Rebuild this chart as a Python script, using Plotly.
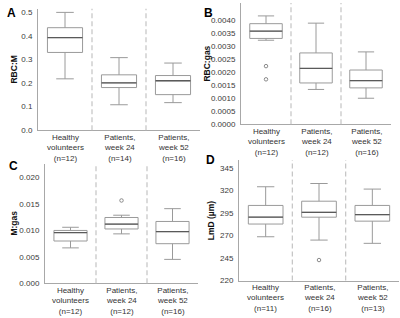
import plotly.graph_objects as go

# ---------------- data ----------------
line1 = ["Healthy", "Patients,", "Patients,"]
line2 = ["volunteers", "week 24", "week 52"]

n_A = [12, 14, 16]
n_B = [12, 12, 16]
n_C = [12, 12, 16]
n_D = [11, 16, 13]

# panel A: RBC:M
A_low = [0.218, 0.108, 0.117]
A_q1 = [0.330, 0.181, 0.151]
A_med = [0.393, 0.201, 0.210]
A_q3 = [0.435, 0.235, 0.232]
A_high = [0.500, 0.308, 0.285]
A_out_x = []
A_out_y = []

# panel B: RBC:gas
B_low = [0.00324, 0.00134, 0.00100]
B_q1 = [0.00331, 0.00159, 0.00140]
B_med = [0.00359, 0.00215, 0.00168]
B_q3 = [0.00388, 0.00275, 0.00209]
B_high = [0.00418, 0.00390, 0.00279]
B_out_x = [0, 0]
B_out_y = [0.00224, 0.00173]

# panel C: M:gas
C_low = [0.0067, 0.00935, 0.00452]
C_q1 = [0.0080, 0.01028, 0.00749]
C_med = [0.0096, 0.0112, 0.00978]
C_q3 = [0.0100, 0.01245, 0.0117]
C_high = [0.0106, 0.01288, 0.01412]
C_out_x = [1]
C_out_y = [0.01567]

# panel D: LmD (µm)
D_low = [268.6, 264.9, 261.3]
D_q1 = [282.7, 290.3, 285.9]
D_med = [290.3, 295.7, 293.1]
D_q3 = [303.3, 308.0, 303.3]
D_high = [324.0, 327.6, 321.4]
D_out_x = [1]
D_out_y = [242.8]

W, H = 400, 318
FONT = "Liberation Sans, Arial, sans-serif"
BOX_W = 0.65

panels = [
    dict(key="A", title="RBC:M", low=A_low, q1=A_q1, med=A_med, q3=A_q3, high=A_high,
         ox=A_out_x, oy=A_out_y, n=n_A, xpx=(38, 200), ypx=(8, 131.7),
         yrange=[0, 0.515], tickvals=[0, 0.1, 0.2, 0.3, 0.4, 0.5], fmt="{:.1f}",
         letter=(11, 12), ytitle_x=14),
    dict(key="B", title="RBC:gas", low=B_low, q1=B_q1, med=B_med, q3=B_q3, high=B_high,
         ox=B_out_x, oy=B_out_y, n=n_B, xpx=(241, 391), ypx=(2, 125.5),
         yrange=[0, 0.00468], tickvals=[i * 0.0005 for i in range(9)], fmt="{:.4f}",
         letter=(208, 12), ytitle_x=207),
    dict(key="C", title="M:gas", low=C_low, q1=C_q1, med=C_med, q3=C_q3, high=C_high,
         ox=C_out_x, oy=C_out_y, n=n_C, xpx=(45, 198), ypx=(166, 287.7),
         yrange=[0, 0.0226], tickvals=[0, 0.005, 0.01, 0.015, 0.02], fmt="{:.3f}",
         letter=(13, 168), ytitle_x=14),
    dict(key="D", title="LmD (µm)", low=D_low, q1=D_q1, med=D_med, q3=D_q3, high=D_high,
         ox=D_out_x, oy=D_out_y, n=n_D, xpx=(239, 399), ypx=(162, 285),
         yrange=[220, 353.7], tickvals=[220, 245, 270, 295, 320, 345], fmt="{:.0f}",
         letter=(210, 162), ytitle_x=211),
]

fig = go.Figure()
shapes = []
annotations = []
layout = {}

for i, p in enumerate(panels):
    s = "" if i == 0 else str(i + 1)
    xa, ya = "x" + s, "y" + s
    xdom = [p["xpx"][0] / W, p["xpx"][1] / W]
    ydom = [1 - p["ypx"][1] / H, 1 - p["ypx"][0] / H]

    fig.add_trace(go.Box(
        x=[0, 1, 2], q1=p["q1"], median=p["med"], q3=p["q3"],
        lowerfence=p["low"], upperfence=p["high"],
        width=BOX_W, whiskerwidth=0.5, boxpoints=False,
        fillcolor="white", line=dict(color="#9a9a9a", width=1),
        xaxis=xa, yaxis=ya, showlegend=False, hoverinfo="skip"))
    if p["ox"]:
        fig.add_trace(go.Scatter(
            x=p["ox"], y=p["oy"], mode="markers",
            marker=dict(symbol="circle-open", size=3.5, color="#8a8a8a", line=dict(width=1)),
            xaxis=xa, yaxis=ya, showlegend=False, hoverinfo="skip"))

    # darker median lines
    for j, m in enumerate(p["med"]):
        shapes.append(dict(type="line", xref=xa, yref=ya,
                           x0=j - BOX_W / 2, x1=j + BOX_W / 2, y0=m, y1=m,
                           line=dict(color="#5a5a5a", width=1.3)))
    # dashed separators
    for b in [0.5, 1.5]:
        shapes.append(dict(type="line", xref=xa, yref=ya + " domain",
                           x0=b, x1=b, y0=0, y1=1,
                           line=dict(color="#c4c4c4", width=1.2, dash="5px,3px")))

    layout["xaxis" + s] = dict(domain=xdom, range=[-0.5, 2.5], anchor=ya,
                               showticklabels=False, ticks="", showgrid=False,
                               zeroline=False, showline=True, linecolor="#a8a8a8",
                               linewidth=1, fixedrange=True)
    layout["yaxis" + s] = dict(domain=ydom, range=p["yrange"], anchor=xa,
                               tickvals=p["tickvals"],
                               ticktext=[p["fmt"].format(v) for v in p["tickvals"]],
                               ticks="", showgrid=False, zeroline=False, showline=True,
                               linecolor="#a8a8a8", linewidth=1,
                               tickfont=dict(size=8, color="#3a3a3a", family=FONT),
                               ticklabelstandoff=3, fixedrange=True)

    # category labels (three lines, one text each)
    for j in range(3):
        txt = "%s<br>%s<br>(n=%d)" % (line1[j], line2[j], p["n"][j])
        annotations.append(dict(text=txt, xref=xa, yref=ya + " domain", x=j, y=0,
                                yanchor="top", xanchor="center", yshift=-1.5,
                                showarrow=False, borderpad=0,
                                font=dict(size=8, color="#333333", family=FONT)))
    # y-axis title
    annotations.append(dict(text="<b>%s</b>" % p["title"], xref="paper", yref=ya + " domain",
                            x=p["ytitle_x"] / W, y=0.5, xanchor="center", yanchor="middle",
                            textangle=-90, showarrow=False,
                            font=dict(size=8.5, color="#111111", family=FONT)))
    # panel letter
    annotations.append(dict(text="<b>%s</b>" % p["key"], xref="paper", yref="paper",
                            x=p["letter"][0] / W, y=1 - p["letter"][1] / H,
                            xanchor="center", yanchor="middle", showarrow=False,
                            font=dict(size=12, color="#000000", family=FONT)))

fig.update_layout(width=W, height=H, margin=dict(l=0, r=0, t=0, b=0),
                  paper_bgcolor="white", plot_bgcolor="white", hovermode=False,
                  shapes=shapes, annotations=annotations, **layout)

fig.write_html("out.html", config={"displayModeBar": False, "staticPlot": True},
               post_script="document.body.style.margin='0px';"
                           "document.body.style.overflow='hidden';")
